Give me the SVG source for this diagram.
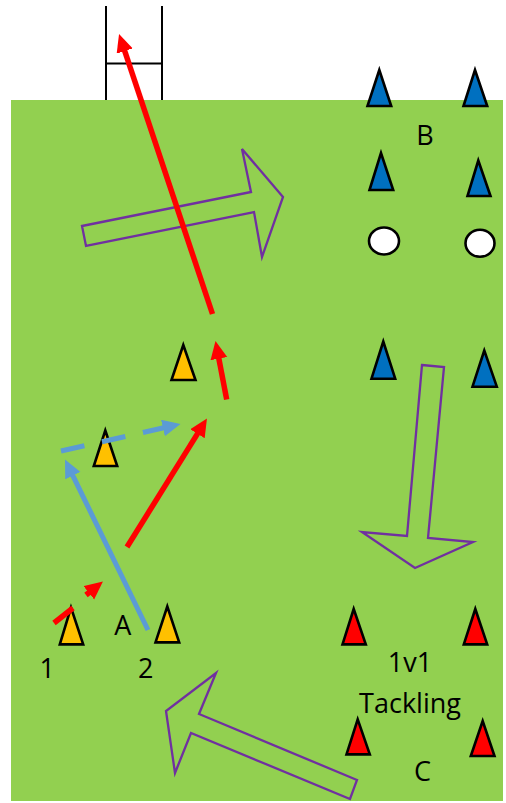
<svg xmlns="http://www.w3.org/2000/svg" width="506" height="803" viewBox="0 0 506 803">
  <style>
    .cone { stroke: #000; stroke-width: 2.6; stroke-linejoin: miter; }
    .blue { fill: #0070C0; }
    .yellow { fill: #FFC000; }
    .red { fill: #FF0000; }
    .ball { fill: #FFFFFF; stroke: #000; stroke-width: 2.6; }
    .big { fill: none; stroke: #7030A0; stroke-width: 2.3; stroke-linejoin: miter; }
    .post { stroke: #000; stroke-width: 2; fill: none; }
    .lbl { font-family: "Open Sans", "Noto Sans", "DejaVu Sans", sans-serif; font-size: 27px; fill: #000; text-anchor: middle; }
    .rl { stroke: #FF0000; stroke-width: 5.5; fill: none; }
    .bl { stroke: #5B9BD5; stroke-width: 5; fill: none; }
  </style>
  <defs>
    <marker id="ahr" markerUnits="userSpaceOnUse" markerWidth="20" markerHeight="18" refX="2" refY="8.5" orient="auto" viewBox="0 0 20 18">
      <path d="M0,0 L18,8.5 L0,17 z" fill="#FF0000"/>
    </marker>
    <marker id="ahb" markerUnits="userSpaceOnUse" markerWidth="20" markerHeight="18" refX="2" refY="8.5" orient="auto" viewBox="0 0 20 18">
      <path d="M0,0 L18,8.5 L0,17 z" fill="#5B9BD5"/>
    </marker>
  </defs>

  <g id="goal">
    <line class="post" x1="106" y1="6" x2="106" y2="100"/>
    <line class="post" x1="162" y1="6" x2="162" y2="100"/>
    <line class="post" x1="106" y1="63.5" x2="162" y2="63.5"/>
  </g>

  <g id="field">
    <rect x="11" y="100" width="492" height="701" fill="#92D050"/>
  </g>

  <g id="big-arrows">
    <polygon id="arrow-right" class="big" points="82,226 251,192 242,149 283,197 262,257 254,212 86,246"/>
    <polygon id="arrow-down" class="big" points="422,365 444,367 428,538 473,542 415,568 362,532 407,536"/>
    <polygon id="arrow-left" class="big" points="357,780 199,714 216,673 166,711 175,773 191,733 350,799"/>
  </g>

  <g id="cones-b">
    <polygon class="cone blue" points="379.3,70 367.5,106 391.2,106"/>
    <polygon class="cone blue" points="475,70 463.5,106 487.2,106"/>
    <polygon class="cone blue" points="381,153 369.5,190 393.2,190"/>
    <polygon class="cone blue" points="478.3,160.5 467.5,196 490.5,196"/>
    <polygon class="cone blue" points="383.3,341.5 371.5,378.7 395.2,378.7"/>
    <polygon class="cone blue" points="484.3,350.5 472.5,386.7 496.8,386.7"/>
  </g>
  <g id="balls">
    <ellipse class="ball" cx="384" cy="241" rx="15" ry="13.5"/>
    <ellipse class="ball" cx="480" cy="243.3" rx="14.5" ry="13.5"/>
  </g>
  <g id="cones-a">
    <polygon class="cone yellow" points="183.3,345 171.5,380 195.5,380"/>
    <polygon class="cone yellow" points="105.3,430.5 93.8,466 117.2,466"/>
    <polygon class="cone yellow" points="71,607.5 59.8,644.4 83.2,644.4"/>
    <polygon class="cone yellow" points="167.3,606.5 155.5,642.4 179.2,642.4"/>
  </g>
  <g id="cones-c">
    <polygon class="cone red" points="353.7,609 342.5,644.4 365.8,644.4"/>
    <polygon class="cone red" points="475.3,609 463.8,644.4 487.2,644.4"/>
    <polygon class="cone red" points="357.7,719.3 346.5,754.4 369.8,754.4"/>
    <polygon class="cone red" points="482.7,721 470.8,756 494.5,756"/>
  </g>

  <g id="connectors">
    <line class="rl" x1="212.5" y1="314" x2="124.1" y2="49.2" marker-end="url(#ahr)"/>
    <line class="rl" x1="226.7" y1="399.5" x2="218.5" y2="356.7" marker-end="url(#ahr)"/>
    <line class="rl" x1="127" y1="547" x2="198.5" y2="432.1" marker-end="url(#ahr)"/>
    <line class="rl" x1="54" y1="623" x2="73" y2="608"/>
    <line class="rl" x1="86" y1="595" x2="90.4" y2="591.5" marker-end="url(#ahr)"/>
    <line class="bl" x1="148" y1="630" x2="72" y2="473.9" marker-end="url(#ahb)"/>
    <line class="bl" x1="61" y1="451" x2="164.9" y2="427.5" stroke-dasharray="24 18" marker-end="url(#ahb)"/>
  </g>

  <g id="labels">
    <text class="lbl" x="425" y="145">B</text>
    <text class="lbl" x="122.7" y="635">A</text>
    <text class="lbl" x="47.3" y="678">1</text>
    <text class="lbl" x="145.7" y="678">2</text>
    <text class="lbl" x="410" y="672">1v1</text>
    <text class="lbl" x="410" y="713">Tackling</text>
    <text class="lbl" x="422.5" y="781">C</text>
  </g>
</svg>
